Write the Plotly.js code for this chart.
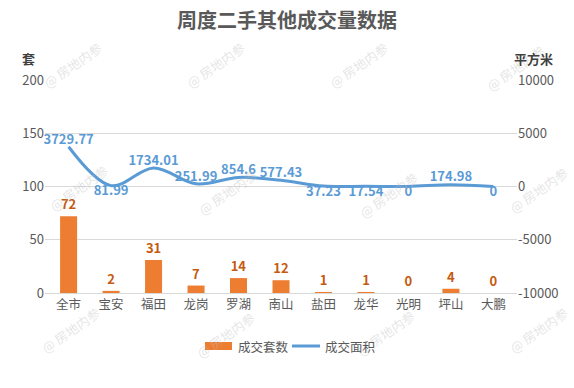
<!DOCTYPE html>
<html>
<head>
<meta charset="utf-8">
<script src="https://cdn.plot.ly/plotly-3.0.1.min.js"></script>
<style>html,body{margin:0;padding:0;background:#fff;}#chart{width:574px;height:388px;}</style>
</head>
<body>
<div id="chart"></div>
<script>
const categories = ['全市','宝安','福田','龙岗','罗湖','南山','盐田','龙华','光明','坪山','大鹏'];
const dealCount = [72, 2, 31, 7, 14, 12, 1, 1, 0, 4, 0];
const dealArea = [3729.77, 81.99, 1734.01, 251.99, 854.6, 577.43, 37.23, 17.54, 0, 174.98, 0];
const areaLabelPos = ['top center','bottom center','top center','top center','top center','top center','bottom center','bottom center','bottom center','top center','bottom center'];
const leftTicks = [0, 50, 100, 150, 200];
const rightTicks = [-10000, -5000, 0, 5000, 10000];
const rightTickText = ['-10000', '-5000', '0', '5000', '10000'];
const seriesNames = ['成交套数', '成交面积'];

const FONT = '"Noto Sans CJK SC", "Microsoft YaHei", sans-serif';
const GREY = '#595959';
const ORANGE = '#ED7D31';
const BLUE = '#5B9BD5';

const traces = [
  {
    type: 'bar', name: seriesNames[0], x: categories, y: dealCount,
    marker: {color: ORANGE}, width: 0.4,
    text: dealCount.map(String), textposition: 'outside',
    textfont: {color: '#C55A11', size: 13, family: FONT, weight: 'bold'},
    cliponaxis: false, hoverinfo: 'skip', showlegend: false
  },
  {
    type: 'scatter', mode: 'lines+text', name: seriesNames[1], x: categories, y: dealArea,
    yaxis: 'y2', line: {color: BLUE, width: 3, shape: 'spline', smoothing: 1},
    text: dealArea.map(String), textposition: areaLabelPos,
    textfont: {color: BLUE, size: 13, family: FONT, weight: 'bold'},
    cliponaxis: false, hoverinfo: 'skip', showlegend: false
  }
];

// pixel -> paper helpers (plot area: x 45..517, y 80..293)
const px = v => (v - 45) / 472;
const py = v => (293 - v) / 213;

const wm = [[72,65],[215,65],[358,65],[515,68],[78,188],[227,192],[388,195],[538,190],[70,330],[225,335],[385,333],[538,330]];
const annotations = wm.map(p => ({
  xref: 'paper', yref: 'paper', x: px(p[0]), y: py(p[1]), xanchor: 'center', yanchor: 'middle',
  text: '@ 房地内参', showarrow: false, textangle: -35,
  font: {family: FONT, size: 13, color: 'rgba(190,190,190,0.4)'}
}));
annotations.push({xref:'paper', yref:'paper', x:px(28), y:py(58), xanchor:'center', yanchor:'middle', text:'套', showarrow:false,
  font:{family:FONT, size:13, color:'#404040', weight:'bold'}});
annotations.push({xref:'paper', yref:'paper', x:px(533), y:py(59), xanchor:'center', yanchor:'middle', text:'平方米', showarrow:false,
  font:{family:FONT, size:13, color:'#404040', weight:'bold'}});
// custom legend labels
annotations.push({xref:'paper', yref:'paper', x:px(236), y:py(346), xanchor:'left', yanchor:'middle', text:seriesNames[0], showarrow:false,
  font:{family:FONT, size:12.5, color:GREY}});
annotations.push({xref:'paper', yref:'paper', x:px(323), y:py(346), xanchor:'left', yanchor:'middle', text:seriesNames[1], showarrow:false,
  font:{family:FONT, size:12.5, color:GREY}});

const shapes = [
  {type:'rect', xref:'paper', yref:'paper', x0:px(205), x1:px(232), y0:py(350), y1:py(342), fillcolor:ORANGE, line:{width:0}},
  {type:'line', xref:'paper', yref:'paper', x0:px(292), x1:px(320), y0:py(346), y1:py(346), line:{color:BLUE, width:3}}
];

const layout = {
  width: 574, height: 388,
  margin: {l: 45, r: 57, t: 80, b: 95},
  paper_bgcolor: '#fff', plot_bgcolor: '#fff',
  font: {family: FONT, size: 12, color: GREY},
  title: {text: '周度二手其他成交量数据', x: 0.5, xref: 'container', xanchor: 'center',
    y: 1 - 21/388, yref: 'container', yanchor: 'middle',
    font: {family: FONT, size: 20, color: GREY, weight: 'bold'}},
  showlegend: false,
  xaxis: {type: 'category', showgrid: false, showline: true, linecolor: '#d9d9d9', linewidth: 1,
    ticks: '', tickfont: {size: 12.5, color: GREY}, fixedrange: true},
  yaxis: {range: [0, 200], tickvals: leftTicks, showgrid: true, gridcolor: '#d9d9d9', gridwidth: 1,
    zeroline: false, showline: false, ticks: '', tickfont: {size: 13, color: GREY}, fixedrange: true},
  yaxis2: {range: [-10000, 10000], tickvals: rightTicks, ticktext: rightTickText, overlaying: 'y', side: 'right',
    showgrid: false, zeroline: false, showline: false, ticks: '', tickfont: {size: 13, color: GREY}, fixedrange: true},
  annotations: annotations,
  shapes: shapes
};

Plotly.newPlot('chart', traces, layout, {displayModeBar: false, staticPlot: true});
</script>
</body>
</html>
